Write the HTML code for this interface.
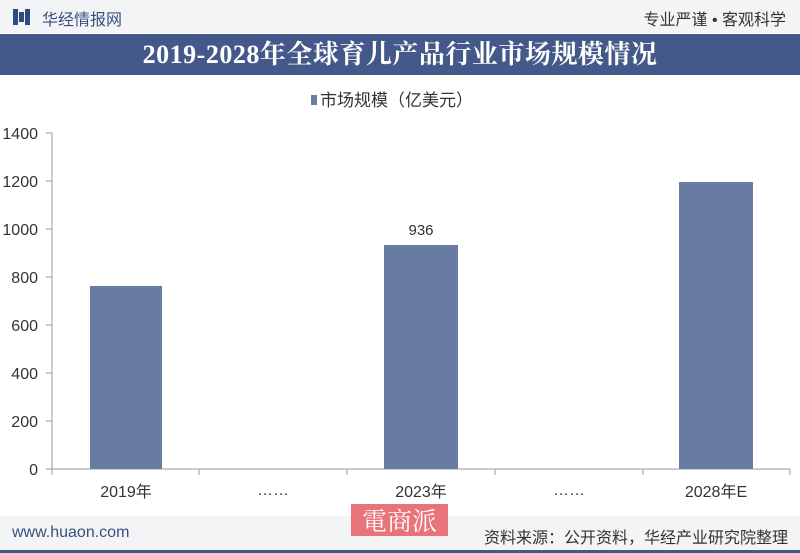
<!DOCTYPE html><html><head><meta charset="utf-8"><style>
body{margin:0;width:800px;height:553px;overflow:hidden;background:#fff;font-family:"Liberation Sans","Noto Sans CJK SC",sans-serif;position:relative}
.top{position:absolute;left:0;top:0;width:800px;height:33px;background:#f3f4f6}
.title{position:absolute;left:0;top:34px;width:800px;height:41px;background:#44598a;color:#fff;font-family:"Liberation Serif","Noto Serif CJK SC",serif;font-weight:bold;font-size:26px;letter-spacing:0.5px;text-align:center;line-height:41px}
.foot{position:absolute;left:0;top:516px;width:800px;height:34px;background:#f3f4f6;border-bottom:3px solid #44598a}
</style></head><body>
<div class="top">
<div style="position:absolute;left:13px;top:9px;width:5px;height:16px;background:#2f4a80"></div>
<div style="position:absolute;left:19px;top:12px;width:5px;height:10px;background:#2f4a80"></div>
<div style="position:absolute;left:25px;top:9px;width:5px;height:16px;background:#2f4a80"></div>
<div style="position:absolute;left:42px;top:6px;font-size:16px;color:#3a4f7e">华经情报网</div>
<div style="position:absolute;right:14px;top:6px;font-size:16px;color:#333">专业严谨 • 客观科学</div>
</div>
<div class="title">2019-2028年全球育儿产品行业市场规模情况</div>
<svg style="position:absolute;left:0;top:75px" width="800" height="441">
<g font-family="Liberation Sans,Noto Sans CJK SC,sans-serif">
<rect x="311" y="20" width="6" height="10" fill="#677ba3"/>
<text x="320" y="31" font-size="17" fill="#333">市场规模（亿美元）</text>
<line x1="52" y1="58" x2="52" y2="394" stroke="#999"/>
<line x1="52" y1="394" x2="790" y2="394" stroke="#999"/>
<g stroke="#999">
<line x1="46" y1="58" x2="52" y2="58"/><line x1="46" y1="106" x2="52" y2="106"/><line x1="46" y1="154" x2="52" y2="154"/><line x1="46" y1="202" x2="52" y2="202"/><line x1="46" y1="250" x2="52" y2="250"/><line x1="46" y1="298" x2="52" y2="298"/><line x1="46" y1="346" x2="52" y2="346"/><line x1="46" y1="394" x2="52" y2="394"/>
<line x1="52" y1="394" x2="52" y2="400"/><line x1="199" y1="394" x2="199" y2="400"/><line x1="347" y1="394" x2="347" y2="400"/><line x1="495" y1="394" x2="495" y2="400"/><line x1="643" y1="394" x2="643" y2="400"/><line x1="790" y1="394" x2="790" y2="400"/>
</g>
<g font-size="16" fill="#333" text-anchor="end">
<text x="38" y="64">1400</text><text x="38" y="112">1200</text><text x="38" y="160">1000</text><text x="38" y="208">800</text><text x="38" y="256">600</text><text x="38" y="304">400</text><text x="38" y="352">200</text><text x="38" y="400">0</text>
</g>
<rect x="90" y="211" width="72" height="183" fill="#677ba3"/>
<rect x="384" y="170" width="74" height="224" fill="#677ba3"/>
<rect x="679" y="107" width="74" height="287" fill="#677ba3"/>
<text x="421" y="160" font-size="15" fill="#333" text-anchor="middle">936</text>
<g font-size="16" fill="#333" text-anchor="middle">
<text x="126" y="422">2019年</text><text x="273" y="420">……</text><text x="421" y="422">2023年</text><text x="569" y="420">……</text><text x="716" y="422">2028年E</text>
</g>
</g></svg>
<div class="foot">
<div style="position:absolute;left:12px;top:8px;font-size:16px;color:#3a4f7e">www.huaon.com</div>
<div style="position:absolute;right:12px;top:8px;font-size:16px;color:#333">资料来源：公开资料，华经产业研究院整理</div>
</div>
<div style="position:absolute;left:351px;top:504px;width:97px;height:32px;background:#e8737a;color:#fff;font-size:25px;line-height:32px;text-align:center;font-family:'Noto Serif CJK SC',serif">電商派</div>
</body></html>
